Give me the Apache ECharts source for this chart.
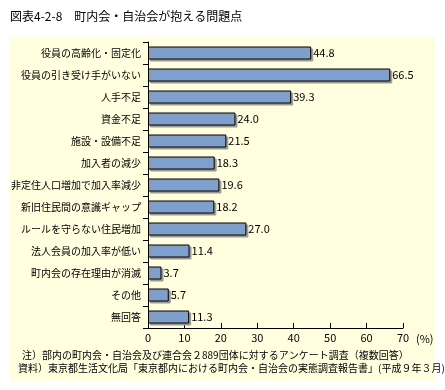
<!DOCTYPE html>
<html><head><meta charset="utf-8">
<script src="https://cdn.jsdelivr.net/npm/echarts@6/dist/echarts.min.js"></script>
<style>html,body{margin:0;padding:0;background:#fff;}#c{width:445px;height:390px;}</style>
</head><body><div id="c"></div>
<script>
const categories = ['役員の高齢化・固定化','役員の引き受け手がいない','人手不足','資金不足','施設・設備不足','加入者の減少','非定住人口増加で加入率減少','新旧住民間の意識ギャップ','ルールを守らない住民増加','法人会員の加入率が低い','町内会の存在理由が消滅','その他','無回答'];
const values = [44.8, 66.5, 39.3, 24.0, 21.5, 18.3, 19.6, 18.2, 27.0, 11.4, 3.7, 5.7, 11.3];
const xTicks = [0, 10, 20, 30, 40, 50, 60, 70];
const titleText = '図表4-2-8　町内会・自治会が抱える問題点';
const notes = ['注）部内の町内会・自治会及び連合会２889団体に対するアンケート調査（複数回答）','資料）東京都生活文化局「東京都内における町内会・自治会の実態調査報告書」(平成９年３月)'];

const font = '"Noto Sans CJK JP", "Noto Sans", sans-serif';
const chart = echarts.init(document.getElementById('c'));
chart.setOption({
  animation: false,
  backgroundColor: '#ffffff',
  textStyle: { fontFamily: font },
  graphic: [
    { type: 'rect', z: -10, shape: { x: 10, y: 37, width: 425, height: 344 }, style: { fill: '#FFFFE0' } },
    { type: 'text', left: 10, top: 10, style: { text: titleText, font: '12px ' + font, fill: '#000' } },
    { type: 'text', left: 416, top: 333, style: { text: '(%)', font: '11px ' + font, fill: '#000' } },
    { type: 'text', left: 22, top: 350, style: { text: notes[0], font: '10px ' + font, fill: '#000' } },
    { type: 'text', left: 18, top: 363, style: { text: notes[1], font: '10px ' + font, fill: '#000' } }
  ],
  grid: { left: 148, right: 42, top: 42, bottom: 62 },
  xAxis: {
    type: 'value', min: 0, max: 70, interval: 10,
    axisLine: { show: true, lineStyle: { color: '#000' } },
    axisTick: { show: true, inside: true, length: 5, lineStyle: { color: '#000' } },
    axisLabel: { color: '#000', fontSize: 11, margin: 4, formatter: v => xTicks.includes(v) ? String(v) : '' },
    splitLine: { show: false }
  },
  yAxis: {
    type: 'category', data: categories, inverse: true,
    axisLine: { show: true, lineStyle: { color: '#000' } },
    axisTick: { show: true, length: 5, lineStyle: { color: '#000' } },
    axisLabel: { color: '#000', fontSize: 10, margin: 7 }
  },
  series: [{
    type: 'bar', data: values, barWidth: 13,
    itemStyle: { color: '#7F9FCF', borderColor: '#000', borderWidth: 1, shadowColor: '#999', shadowOffsetX: 2, shadowOffsetY: 2, shadowBlur: 0 },
    label: { show: true, position: 'right', distance: 2, color: '#000', fontSize: 11, formatter: p => p.value.toFixed(1) }
  }]
});
</script></body></html>
